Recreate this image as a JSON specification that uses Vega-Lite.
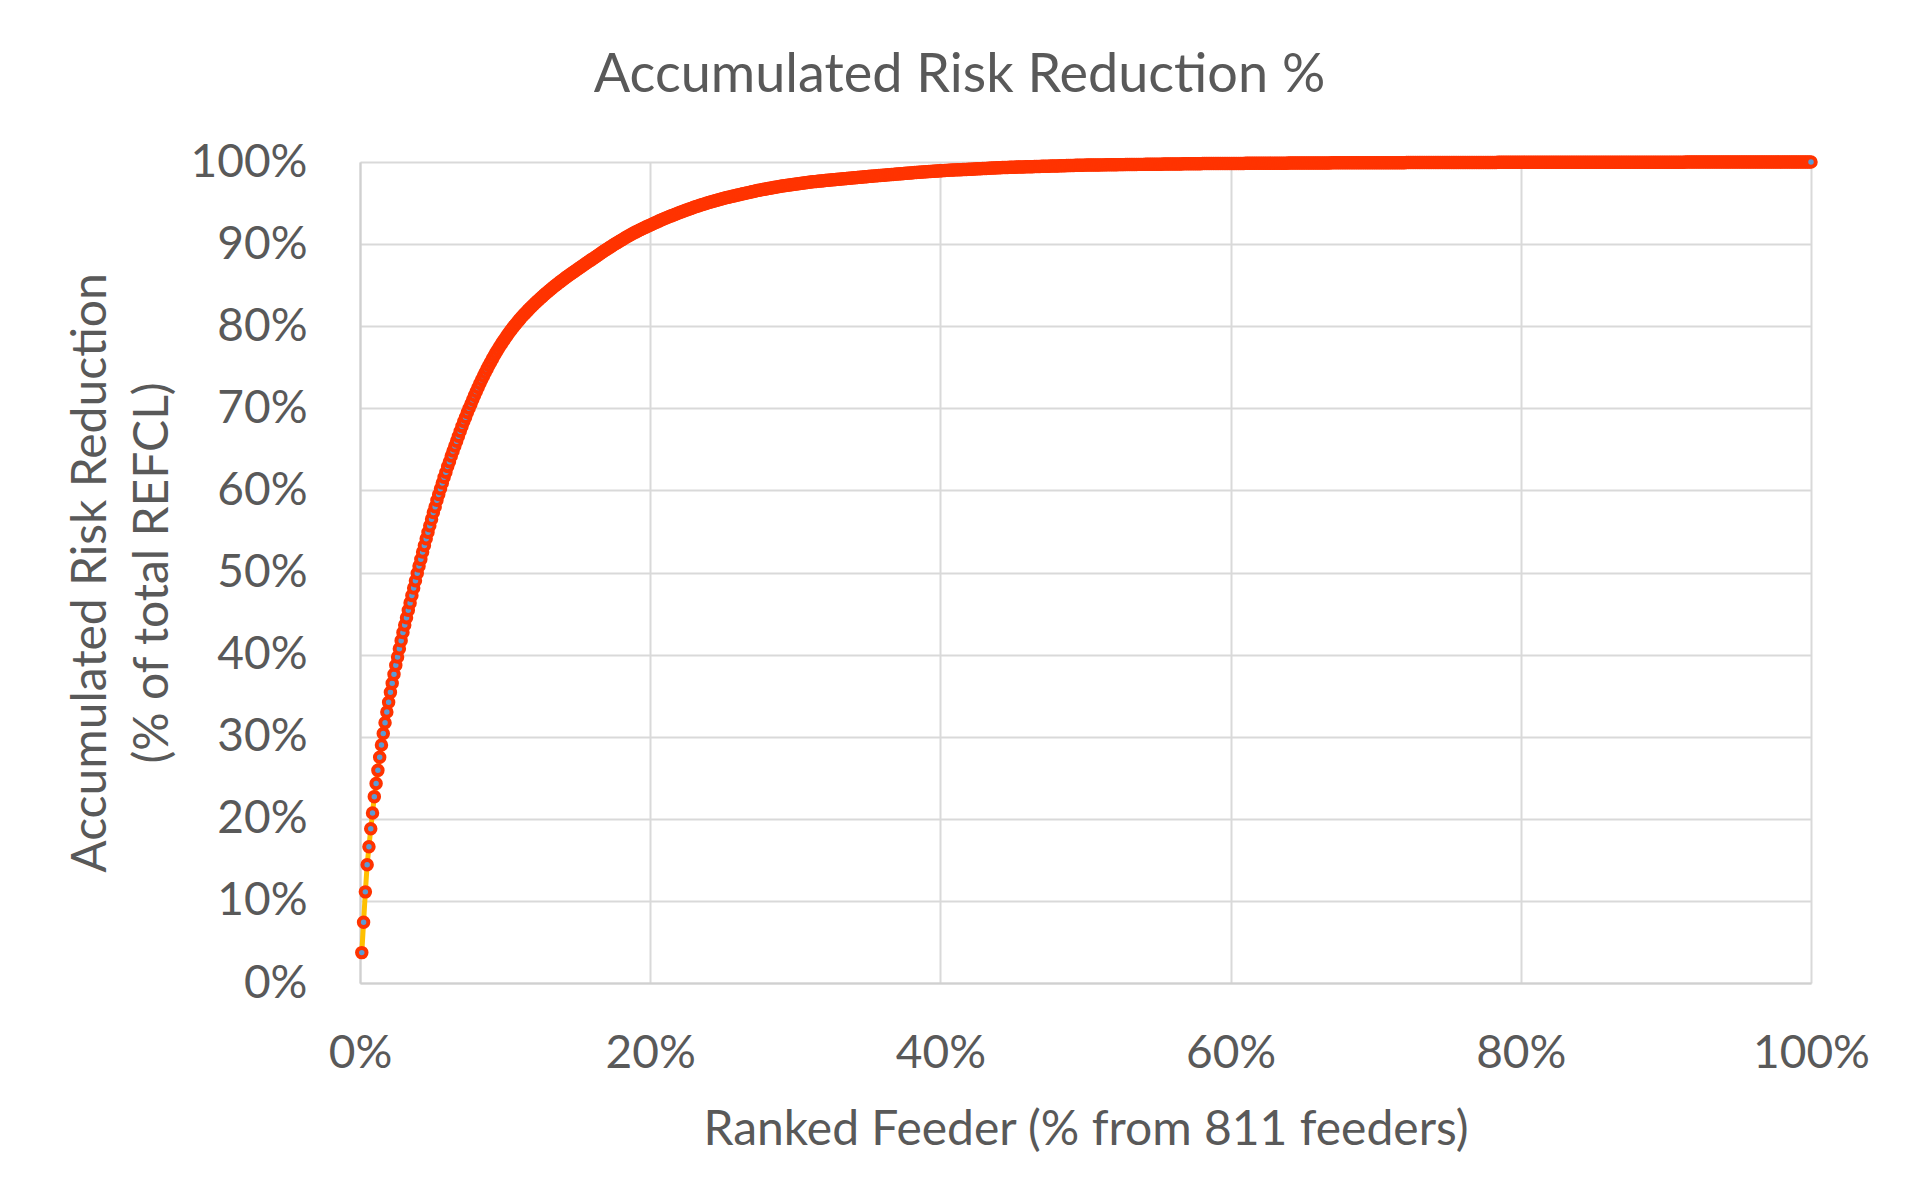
{
"$schema": "https://vega.github.io/schema/vega-lite/v6.json",
"autosize": "none",
"width": 1451,
"height": 821,
"padding": {"left": 360, "top": 162, "right": 95, "bottom": 217},
"background": "white",
"config": {"view": {"stroke": null}, "font": "Lato"},
"title": {"text": "Accumulated Risk Reduction %", "font": "Lato", "fontSize": 54, "fontWeight": "normal", "color": "#595959", "anchor": "middle", "dx": -126, "offset": 36},
"data": {"values": [
{"r":1,"v":3.7},{"r":2,"v":7.4},{"r":3,"v":11.1},{"r":4,"v":14.4},{"r":5,"v":16.6},{"r":6,"v":18.8},{"r":7,"v":20.7},{"r":8,"v":22.7},{"r":9,"v":24.3},{"r":10,"v":25.9},
{"r":11,"v":27.5},{"r":12,"v":29.0},{"r":13,"v":30.4},{"r":14,"v":31.7},{"r":15,"v":33.0},{"r":16,"v":34.2},{"r":17,"v":35.4},{"r":18,"v":36.5},{"r":19,"v":37.6},{"r":20,"v":38.7},
{"r":21,"v":39.7},{"r":22,"v":40.7},{"r":23,"v":41.7},{"r":24,"v":42.7},{"r":25,"v":43.6},{"r":26,"v":44.5},{"r":27,"v":45.4},{"r":28,"v":46.3},{"r":29,"v":47.2},{"r":30,"v":48.1},
{"r":31,"v":49.0},{"r":32,"v":49.9},{"r":33,"v":50.8},{"r":34,"v":51.6},{"r":35,"v":52.5},{"r":36,"v":53.3},{"r":37,"v":54.1},{"r":38,"v":54.9},{"r":39,"v":55.7},{"r":40,"v":56.5},
{"r":41,"v":57.3},{"r":42,"v":58.0},{"r":43,"v":58.8},{"r":44,"v":59.5},{"r":45,"v":60.2},{"r":46,"v":60.9},{"r":47,"v":61.6},{"r":48,"v":62.2},{"r":49,"v":62.9},{"r":50,"v":63.5},
{"r":51,"v":64.2},{"r":52,"v":64.8},{"r":53,"v":65.4},{"r":54,"v":66.0},{"r":55,"v":66.6},{"r":56,"v":67.2},{"r":57,"v":67.8},{"r":58,"v":68.4},{"r":59,"v":68.9},{"r":60,"v":69.5},
{"r":61,"v":70.0},{"r":62,"v":70.53},{"r":63,"v":71.05},{"r":64,"v":71.56},{"r":65,"v":72.05},{"r":66,"v":72.54},{"r":67,"v":73.01},{"r":68,"v":73.48},{"r":69,"v":73.93},{"r":70,"v":74.37},
{"r":71,"v":74.80},{"r":72,"v":75.22},{"r":73,"v":75.62},{"r":74,"v":76.02},{"r":75,"v":76.40},{"r":76,"v":76.78},{"r":77,"v":77.14},{"r":78,"v":77.49},{"r":79,"v":77.83},{"r":80,"v":78.16},
{"r":81,"v":78.48},{"r":82,"v":78.80},{"r":83,"v":79.11},{"r":84,"v":79.41},{"r":85,"v":79.70},{"r":86,"v":79.98},{"r":87,"v":80.25},{"r":88,"v":80.51},{"r":89,"v":80.77},{"r":90,"v":81.02},
{"r":91,"v":81.26},{"r":92,"v":81.50},{"r":93,"v":81.73},{"r":94,"v":81.96},{"r":95,"v":82.18},{"r":96,"v":82.40},{"r":97,"v":82.61},{"r":98,"v":82.82},{"r":99,"v":83.03},{"r":100,"v":83.23},
{"r":101,"v":83.43},{"r":102,"v":83.63},{"r":103,"v":83.82},{"r":104,"v":84.01},{"r":105,"v":84.20},{"r":106,"v":84.38},{"r":107,"v":84.56},{"r":108,"v":84.74},{"r":109,"v":84.92},{"r":110,"v":85.09},
{"r":111,"v":85.26},{"r":112,"v":85.43},{"r":113,"v":85.60},{"r":114,"v":85.76},{"r":115,"v":85.92},{"r":116,"v":86.08},{"r":117,"v":86.24},{"r":118,"v":86.40},{"r":119,"v":86.55},{"r":120,"v":86.70},
{"r":121,"v":86.85},{"r":122,"v":87.00},{"r":123,"v":87.15},{"r":124,"v":87.30},{"r":125,"v":87.45},{"r":126,"v":87.60},{"r":127,"v":87.75},{"r":128,"v":87.90},{"r":129,"v":88.05},{"r":130,"v":88.20},
{"r":131,"v":88.35},{"r":132,"v":88.50},{"r":133,"v":88.65},{"r":134,"v":88.80},{"r":135,"v":88.95},{"r":136,"v":89.10},{"r":137,"v":89.24},{"r":138,"v":89.38},{"r":139,"v":89.52},{"r":140,"v":89.66},
{"r":141,"v":89.80},{"r":142,"v":89.94},{"r":143,"v":90.08},{"r":144,"v":90.21},{"r":145,"v":90.34},{"r":146,"v":90.47},{"r":147,"v":90.60},{"r":148,"v":90.73},{"r":149,"v":90.86},{"r":150,"v":90.98},
{"r":151,"v":91.10},{"r":152,"v":91.22},{"r":153,"v":91.34},{"r":154,"v":91.46},{"r":155,"v":91.57},{"r":156,"v":91.68},{"r":157,"v":91.79},{"r":158,"v":91.90},{"r":159,"v":92.00},{"r":160,"v":92.10},
{"r":161,"v":92.20},{"r":162,"v":92.30},{"r":163,"v":92.40},{"r":164,"v":92.50},{"r":165,"v":92.60},{"r":166,"v":92.70},{"r":167,"v":92.80},{"r":168,"v":92.90},{"r":169,"v":92.99},{"r":170,"v":93.08},
{"r":171,"v":93.17},{"r":172,"v":93.26},{"r":173,"v":93.35},{"r":174,"v":93.44},{"r":175,"v":93.53},{"r":176,"v":93.62},{"r":177,"v":93.71},{"r":178,"v":93.79},{"r":179,"v":93.87},{"r":180,"v":93.95},
{"r":181,"v":94.03},{"r":182,"v":94.11},{"r":183,"v":94.19},{"r":184,"v":94.27},{"r":185,"v":94.35},{"r":186,"v":94.43},{"r":187,"v":94.51},{"r":188,"v":94.58},{"r":189,"v":94.65},{"r":190,"v":94.72},
{"r":191,"v":94.79},{"r":192,"v":94.86},{"r":193,"v":94.93},{"r":194,"v":95.00},{"r":195,"v":95.07},{"r":196,"v":95.14},{"r":197,"v":95.20},{"r":198,"v":95.26},{"r":199,"v":95.32},{"r":200,"v":95.38},
{"r":201,"v":95.44},{"r":202,"v":95.50},{"r":203,"v":95.56},{"r":204,"v":95.62},{"r":205,"v":95.67},{"r":206,"v":95.72},{"r":207,"v":95.77},{"r":208,"v":95.82},{"r":209,"v":95.87},{"r":210,"v":95.92},
{"r":211,"v":95.97},{"r":212,"v":96.02},{"r":213,"v":96.07},{"r":214,"v":96.12},{"r":215,"v":96.17},{"r":216,"v":96.22},{"r":217,"v":96.27},{"r":218,"v":96.32},{"r":219,"v":96.37},{"r":220,"v":96.42},
{"r":221,"v":96.47},{"r":222,"v":96.52},{"r":223,"v":96.56},{"r":224,"v":96.60},{"r":225,"v":96.64},{"r":226,"v":96.68},{"r":227,"v":96.72},{"r":228,"v":96.76},{"r":229,"v":96.80},{"r":230,"v":96.84},
{"r":231,"v":96.88},{"r":232,"v":96.92},{"r":233,"v":96.96},{"r":234,"v":97.00},{"r":235,"v":97.04},{"r":236,"v":97.08},{"r":237,"v":97.11},{"r":238,"v":97.14},{"r":239,"v":97.17},{"r":240,"v":97.20},
{"r":241,"v":97.23},{"r":242,"v":97.26},{"r":243,"v":97.29},{"r":244,"v":97.32},{"r":245,"v":97.35},{"r":246,"v":97.38},{"r":247,"v":97.41},{"r":248,"v":97.44},{"r":249,"v":97.47},{"r":250,"v":97.50},
{"r":251,"v":97.53},{"r":252,"v":97.56},{"r":253,"v":97.59},{"r":254,"v":97.61},{"r":255,"v":97.63},{"r":256,"v":97.66},{"r":257,"v":97.68},{"r":258,"v":97.70},{"r":259,"v":97.72},{"r":260,"v":97.75},
{"r":261,"v":97.77},{"r":262,"v":97.79},{"r":263,"v":97.81},{"r":264,"v":97.83},{"r":265,"v":97.85},{"r":266,"v":97.87},{"r":267,"v":97.89},{"r":268,"v":97.91},{"r":269,"v":97.93},{"r":270,"v":97.95},
{"r":271,"v":97.97},{"r":272,"v":97.99},{"r":273,"v":98.01},{"r":274,"v":98.03},{"r":275,"v":98.05},{"r":276,"v":98.07},{"r":277,"v":98.09},{"r":278,"v":98.11},{"r":279,"v":98.13},{"r":280,"v":98.15},
{"r":281,"v":98.17},{"r":282,"v":98.19},{"r":283,"v":98.21},{"r":284,"v":98.23},{"r":285,"v":98.25},{"r":286,"v":98.27},{"r":287,"v":98.29},{"r":288,"v":98.31},{"r":289,"v":98.33},{"r":290,"v":98.35},
{"r":291,"v":98.37},{"r":292,"v":98.39},{"r":293,"v":98.40},{"r":294,"v":98.42},{"r":295,"v":98.44},{"r":296,"v":98.46},{"r":297,"v":98.48},{"r":298,"v":98.49},{"r":299,"v":98.51},{"r":300,"v":98.53},
{"r":301,"v":98.55},{"r":302,"v":98.57},{"r":303,"v":98.58},{"r":304,"v":98.60},{"r":305,"v":98.62},{"r":306,"v":98.64},{"r":307,"v":98.66},{"r":308,"v":98.67},{"r":309,"v":98.69},{"r":310,"v":98.71},
{"r":311,"v":98.72},{"r":312,"v":98.74},{"r":313,"v":98.75},{"r":314,"v":98.77},{"r":315,"v":98.78},{"r":316,"v":98.80},{"r":317,"v":98.81},{"r":318,"v":98.83},{"r":319,"v":98.84},{"r":320,"v":98.86},
{"r":321,"v":98.87},{"r":322,"v":98.89},{"r":323,"v":98.90},{"r":324,"v":98.92},{"r":325,"v":98.93},{"r":326,"v":98.95},{"r":327,"v":98.96},{"r":328,"v":98.98},{"r":329,"v":98.99},{"r":330,"v":99.01},
{"r":331,"v":99.02},{"r":332,"v":99.03},{"r":333,"v":99.04},{"r":334,"v":99.05},{"r":335,"v":99.06},{"r":336,"v":99.07},{"r":337,"v":99.08},{"r":338,"v":99.09},{"r":339,"v":99.10},{"r":340,"v":99.11},
{"r":341,"v":99.12},{"r":342,"v":99.13},{"r":343,"v":99.15},{"r":344,"v":99.16},{"r":345,"v":99.17},{"r":346,"v":99.18},{"r":347,"v":99.19},{"r":348,"v":99.20},{"r":349,"v":99.21},{"r":350,"v":99.22},
{"r":351,"v":99.23},{"r":352,"v":99.24},{"r":353,"v":99.26},{"r":354,"v":99.27},{"r":355,"v":99.28},{"r":356,"v":99.29},{"r":357,"v":99.30},{"r":358,"v":99.31},{"r":359,"v":99.32},{"r":360,"v":99.33},
{"r":361,"v":99.34},{"r":362,"v":99.34},{"r":363,"v":99.35},{"r":364,"v":99.36},{"r":365,"v":99.36},{"r":366,"v":99.37},{"r":367,"v":99.38},{"r":368,"v":99.38},{"r":369,"v":99.39},{"r":370,"v":99.39},
{"r":371,"v":99.40},{"r":372,"v":99.41},{"r":373,"v":99.41},{"r":374,"v":99.42},{"r":375,"v":99.43},{"r":376,"v":99.43},{"r":377,"v":99.44},{"r":378,"v":99.45},{"r":379,"v":99.45},{"r":380,"v":99.46},
{"r":381,"v":99.47},{"r":382,"v":99.47},{"r":383,"v":99.48},{"r":384,"v":99.49},{"r":385,"v":99.49},{"r":386,"v":99.50},{"r":387,"v":99.50},{"r":388,"v":99.51},{"r":389,"v":99.52},{"r":390,"v":99.52},
{"r":391,"v":99.53},{"r":392,"v":99.54},{"r":393,"v":99.54},{"r":394,"v":99.55},{"r":395,"v":99.56},{"r":396,"v":99.56},{"r":397,"v":99.57},{"r":398,"v":99.58},{"r":399,"v":99.58},{"r":400,"v":99.59},
{"r":401,"v":99.60},{"r":402,"v":99.60},{"r":403,"v":99.61},{"r":404,"v":99.61},{"r":405,"v":99.62},{"r":406,"v":99.63},{"r":407,"v":99.63},{"r":408,"v":99.63},{"r":409,"v":99.63},{"r":410,"v":99.64},
{"r":411,"v":99.64},{"r":412,"v":99.64},{"r":413,"v":99.64},{"r":414,"v":99.65},{"r":415,"v":99.65},{"r":416,"v":99.65},{"r":417,"v":99.66},{"r":418,"v":99.66},{"r":419,"v":99.66},{"r":420,"v":99.66},
{"r":421,"v":99.67},{"r":422,"v":99.67},{"r":423,"v":99.67},{"r":424,"v":99.68},{"r":425,"v":99.68},{"r":426,"v":99.68},{"r":427,"v":99.68},{"r":428,"v":99.69},{"r":429,"v":99.69},{"r":430,"v":99.69},
{"r":431,"v":99.70},{"r":432,"v":99.70},{"r":433,"v":99.70},{"r":434,"v":99.70},{"r":435,"v":99.71},{"r":436,"v":99.71},{"r":437,"v":99.71},{"r":438,"v":99.71},{"r":439,"v":99.72},{"r":440,"v":99.72},
{"r":441,"v":99.72},{"r":442,"v":99.73},{"r":443,"v":99.73},{"r":444,"v":99.73},{"r":445,"v":99.73},{"r":446,"v":99.74},{"r":447,"v":99.74},{"r":448,"v":99.74},{"r":449,"v":99.75},{"r":450,"v":99.75},
{"r":451,"v":99.75},{"r":452,"v":99.75},{"r":453,"v":99.76},{"r":454,"v":99.76},{"r":455,"v":99.76},{"r":456,"v":99.77},{"r":457,"v":99.77},{"r":458,"v":99.77},{"r":459,"v":99.77},{"r":460,"v":99.78},
{"r":461,"v":99.78},{"r":462,"v":99.78},{"r":463,"v":99.78},{"r":464,"v":99.79},{"r":465,"v":99.79},{"r":466,"v":99.79},{"r":467,"v":99.80},{"r":468,"v":99.80},{"r":469,"v":99.80},{"r":470,"v":99.80},
{"r":471,"v":99.81},{"r":472,"v":99.81},{"r":473,"v":99.81},{"r":474,"v":99.81},{"r":475,"v":99.81},{"r":476,"v":99.81},{"r":477,"v":99.81},{"r":478,"v":99.81},{"r":479,"v":99.82},{"r":480,"v":99.82},
{"r":481,"v":99.82},{"r":482,"v":99.82},{"r":483,"v":99.82},{"r":484,"v":99.82},{"r":485,"v":99.82},{"r":486,"v":99.82},{"r":487,"v":99.83},{"r":488,"v":99.83},{"r":489,"v":99.83},{"r":490,"v":99.83},
{"r":491,"v":99.83},{"r":492,"v":99.83},{"r":493,"v":99.83},{"r":494,"v":99.83},{"r":495,"v":99.84},{"r":496,"v":99.84},{"r":497,"v":99.84},{"r":498,"v":99.84},{"r":499,"v":99.84},{"r":500,"v":99.84},
{"r":501,"v":99.84},{"r":502,"v":99.84},{"r":503,"v":99.85},{"r":504,"v":99.85},{"r":505,"v":99.85},{"r":506,"v":99.85},{"r":507,"v":99.85},{"r":508,"v":99.85},{"r":509,"v":99.85},{"r":510,"v":99.85},
{"r":511,"v":99.86},{"r":512,"v":99.86},{"r":513,"v":99.86},{"r":514,"v":99.86},{"r":515,"v":99.86},{"r":516,"v":99.86},{"r":517,"v":99.86},{"r":518,"v":99.86},{"r":519,"v":99.87},{"r":520,"v":99.87},
{"r":521,"v":99.87},{"r":522,"v":99.87},{"r":523,"v":99.87},{"r":524,"v":99.87},{"r":525,"v":99.87},{"r":526,"v":99.87},{"r":527,"v":99.88},{"r":528,"v":99.88},{"r":529,"v":99.88},{"r":530,"v":99.88},
{"r":531,"v":99.88},{"r":532,"v":99.88},{"r":533,"v":99.88},{"r":534,"v":99.88},{"r":535,"v":99.89},{"r":536,"v":99.89},{"r":537,"v":99.89},{"r":538,"v":99.89},{"r":539,"v":99.89},{"r":540,"v":99.89},
{"r":541,"v":99.89},{"r":542,"v":99.89},{"r":543,"v":99.90},{"r":544,"v":99.90},{"r":545,"v":99.90},{"r":546,"v":99.90},{"r":547,"v":99.90},{"r":548,"v":99.90},{"r":549,"v":99.90},{"r":550,"v":99.90},
{"r":551,"v":99.91},{"r":552,"v":99.91},{"r":553,"v":99.91},{"r":554,"v":99.91},{"r":555,"v":99.91},{"r":556,"v":99.91},{"r":557,"v":99.91},{"r":558,"v":99.91},{"r":559,"v":99.91},{"r":560,"v":99.91},
{"r":561,"v":99.91},{"r":562,"v":99.91},{"r":563,"v":99.91},{"r":564,"v":99.91},{"r":565,"v":99.91},{"r":566,"v":99.91},{"r":567,"v":99.91},{"r":568,"v":99.92},{"r":569,"v":99.92},{"r":570,"v":99.92},
{"r":571,"v":99.92},{"r":572,"v":99.92},{"r":573,"v":99.92},{"r":574,"v":99.92},{"r":575,"v":99.92},{"r":576,"v":99.92},{"r":577,"v":99.92},{"r":578,"v":99.92},{"r":579,"v":99.92},{"r":580,"v":99.92},
{"r":581,"v":99.92},{"r":582,"v":99.92},{"r":583,"v":99.92},{"r":584,"v":99.92},{"r":585,"v":99.93},{"r":586,"v":99.93},{"r":587,"v":99.93},{"r":588,"v":99.93},{"r":589,"v":99.93},{"r":590,"v":99.93},
{"r":591,"v":99.93},{"r":592,"v":99.93},{"r":593,"v":99.93},{"r":594,"v":99.93},{"r":595,"v":99.93},{"r":596,"v":99.93},{"r":597,"v":99.93},{"r":598,"v":99.93},{"r":599,"v":99.93},{"r":600,"v":99.93},
{"r":601,"v":99.93},{"r":602,"v":99.94},{"r":603,"v":99.94},{"r":604,"v":99.94},{"r":605,"v":99.94},{"r":606,"v":99.94},{"r":607,"v":99.94},{"r":608,"v":99.94},{"r":609,"v":99.94},{"r":610,"v":99.94},
{"r":611,"v":99.94},{"r":612,"v":99.94},{"r":613,"v":99.94},{"r":614,"v":99.94},{"r":615,"v":99.94},{"r":616,"v":99.94},{"r":617,"v":99.94},{"r":618,"v":99.94},{"r":619,"v":99.95},{"r":620,"v":99.95},
{"r":621,"v":99.95},{"r":622,"v":99.95},{"r":623,"v":99.95},{"r":624,"v":99.95},{"r":625,"v":99.95},{"r":626,"v":99.95},{"r":627,"v":99.95},{"r":628,"v":99.95},{"r":629,"v":99.95},{"r":630,"v":99.95},
{"r":631,"v":99.95},{"r":632,"v":99.95},{"r":633,"v":99.95},{"r":634,"v":99.95},{"r":635,"v":99.95},{"r":636,"v":99.96},{"r":637,"v":99.96},{"r":638,"v":99.96},{"r":639,"v":99.96},{"r":640,"v":99.96},
{"r":641,"v":99.96},{"r":642,"v":99.96},{"r":643,"v":99.96},{"r":644,"v":99.96},{"r":645,"v":99.96},{"r":646,"v":99.96},{"r":647,"v":99.96},{"r":648,"v":99.96},{"r":649,"v":99.96},{"r":650,"v":99.96},
{"r":651,"v":99.97},{"r":652,"v":99.97},{"r":653,"v":99.97},{"r":654,"v":99.97},{"r":655,"v":99.97},{"r":656,"v":99.97},{"r":657,"v":99.97},{"r":658,"v":99.97},{"r":659,"v":99.97},{"r":660,"v":99.97},
{"r":661,"v":99.97},{"r":662,"v":99.97},{"r":663,"v":99.97},{"r":664,"v":99.97},{"r":665,"v":99.97},{"r":666,"v":99.97},{"r":667,"v":99.97},{"r":668,"v":99.97},{"r":669,"v":99.97},{"r":670,"v":99.97},
{"r":671,"v":99.97},{"r":672,"v":99.97},{"r":673,"v":99.97},{"r":674,"v":99.97},{"r":675,"v":99.97},{"r":676,"v":99.97},{"r":677,"v":99.97},{"r":678,"v":99.97},{"r":679,"v":99.97},{"r":680,"v":99.97},
{"r":681,"v":99.97},{"r":682,"v":99.97},{"r":683,"v":99.97},{"r":684,"v":99.97},{"r":685,"v":99.97},{"r":686,"v":99.97},{"r":687,"v":99.97},{"r":688,"v":99.97},{"r":689,"v":99.97},{"r":690,"v":99.97},
{"r":691,"v":99.98},{"r":692,"v":99.98},{"r":693,"v":99.98},{"r":694,"v":99.98},{"r":695,"v":99.98},{"r":696,"v":99.98},{"r":697,"v":99.98},{"r":698,"v":99.98},{"r":699,"v":99.98},{"r":700,"v":99.98},
{"r":701,"v":99.98},{"r":702,"v":99.98},{"r":703,"v":99.98},{"r":704,"v":99.98},{"r":705,"v":99.98},{"r":706,"v":99.98},{"r":707,"v":99.98},{"r":708,"v":99.98},{"r":709,"v":99.98},{"r":710,"v":99.98},
{"r":711,"v":99.98},{"r":712,"v":99.98},{"r":713,"v":99.98},{"r":714,"v":99.98},{"r":715,"v":99.98},{"r":716,"v":99.98},{"r":717,"v":99.98},{"r":718,"v":99.98},{"r":719,"v":99.98},{"r":720,"v":99.98},
{"r":721,"v":99.98},{"r":722,"v":99.98},{"r":723,"v":99.98},{"r":724,"v":99.98},{"r":725,"v":99.98},{"r":726,"v":99.98},{"r":727,"v":99.98},{"r":728,"v":99.98},{"r":729,"v":99.98},{"r":730,"v":99.98},
{"r":731,"v":99.98},{"r":732,"v":99.98},{"r":733,"v":99.98},{"r":734,"v":99.98},{"r":735,"v":99.98},{"r":736,"v":99.98},{"r":737,"v":99.98},{"r":738,"v":99.98},{"r":739,"v":99.98},{"r":740,"v":99.98},
{"r":741,"v":99.99},{"r":742,"v":99.99},{"r":743,"v":99.99},{"r":744,"v":99.99},{"r":745,"v":99.99},{"r":746,"v":99.99},{"r":747,"v":99.99},{"r":748,"v":99.99},{"r":749,"v":99.99},{"r":750,"v":99.99},
{"r":751,"v":99.99},{"r":752,"v":99.99},{"r":753,"v":99.99},{"r":754,"v":99.99},{"r":755,"v":99.99},{"r":756,"v":99.99},{"r":757,"v":99.99},{"r":758,"v":99.99},{"r":759,"v":99.99},{"r":760,"v":99.99},
{"r":761,"v":99.99},{"r":762,"v":99.99},{"r":763,"v":99.99},{"r":764,"v":99.99},{"r":765,"v":99.99},{"r":766,"v":99.99},{"r":767,"v":99.99},{"r":768,"v":99.99},{"r":769,"v":99.99},{"r":770,"v":99.99},
{"r":771,"v":99.99},{"r":772,"v":99.99},{"r":773,"v":99.99},{"r":774,"v":99.99},{"r":775,"v":99.99},{"r":776,"v":99.99},{"r":777,"v":99.99},{"r":778,"v":99.99},{"r":779,"v":99.99},{"r":780,"v":99.99},
{"r":781,"v":99.99},{"r":782,"v":99.99},{"r":783,"v":99.99},{"r":784,"v":99.99},{"r":785,"v":99.99},{"r":786,"v":99.99},{"r":787,"v":99.99},{"r":788,"v":99.99},{"r":789,"v":99.99},{"r":790,"v":99.99},
{"r":791,"v":100},{"r":792,"v":100},{"r":793,"v":100},{"r":794,"v":100},{"r":795,"v":100},{"r":796,"v":100},{"r":797,"v":100},{"r":798,"v":100},{"r":799,"v":100},{"r":800,"v":100},
{"r":801,"v":100},{"r":802,"v":100},{"r":803,"v":100},{"r":804,"v":100},{"r":805,"v":100},{"r":806,"v":100},{"r":807,"v":100},{"r":808,"v":100},{"r":809,"v":100},{"r":810,"v":100},
{"r":811,"v":100}
]},
"encoding": {
  "x": {"field": "r", "type": "quantitative", "scale": {"domain": [0, 811], "nice": false, "zero": true},
        "axis": {"values": [0, 162.2, 324.4, 486.6, 648.8, 811], "labelExpr": "format(datum.value/811, '.0%')",
                 "title": "Ranked Feeder (% from 811 feeders)", "grid": true, "gridColor": "#D9D9D9", "gridWidth": 2,
                 "domainColor": "#D0D0D0", "domainWidth": 2, "ticks": false, "tickSize": 0,
                 "labelFont": "Lato", "labelFontSize": 46, "labelColor": "#595959", "labelPadding": 48, "labelFlush": false,
                 "titleFont": "Lato", "titleFontSize": 48, "titleFontWeight": "normal", "titleColor": "#595959", "titlePadding": 30}},
  "y": {"field": "v", "type": "quantitative", "scale": {"domain": [0, 100], "nice": false},
        "axis": {"values": [0, 10, 20, 30, 40, 50, 60, 70, 80, 90, 100], "labelExpr": "datum.value + '%'",
                 "title": ["Accumulated Risk Reduction", "(% of total REFCL)"], "grid": true, "gridColor": "#D9D9D9", "gridWidth": 2,
                 "domainColor": "#D0D0D0", "domainWidth": 2, "ticks": false, "tickSize": 0,
                 "labelFont": "Lato", "labelFontSize": 46, "labelColor": "#595959", "labelPadding": 53, "labelFlush": false,
                 "titleFont": "Lato", "titleFontSize": 48, "titleFontWeight": "normal", "titleColor": "#595959", "titlePadding": 13, "titleLineHeight": 62}}
},
"layer": [
  {"mark": {"type": "line", "color": "#FFC000", "strokeWidth": 5}},
  {"mark": {"type": "point", "shape": "circle", "filled": true, "fill": "#5B9BD5", "stroke": "#FF3300", "strokeWidth": 4, "size": 90, "opacity": 1, "fillOpacity": 1, "strokeOpacity": 1}}
]
}
